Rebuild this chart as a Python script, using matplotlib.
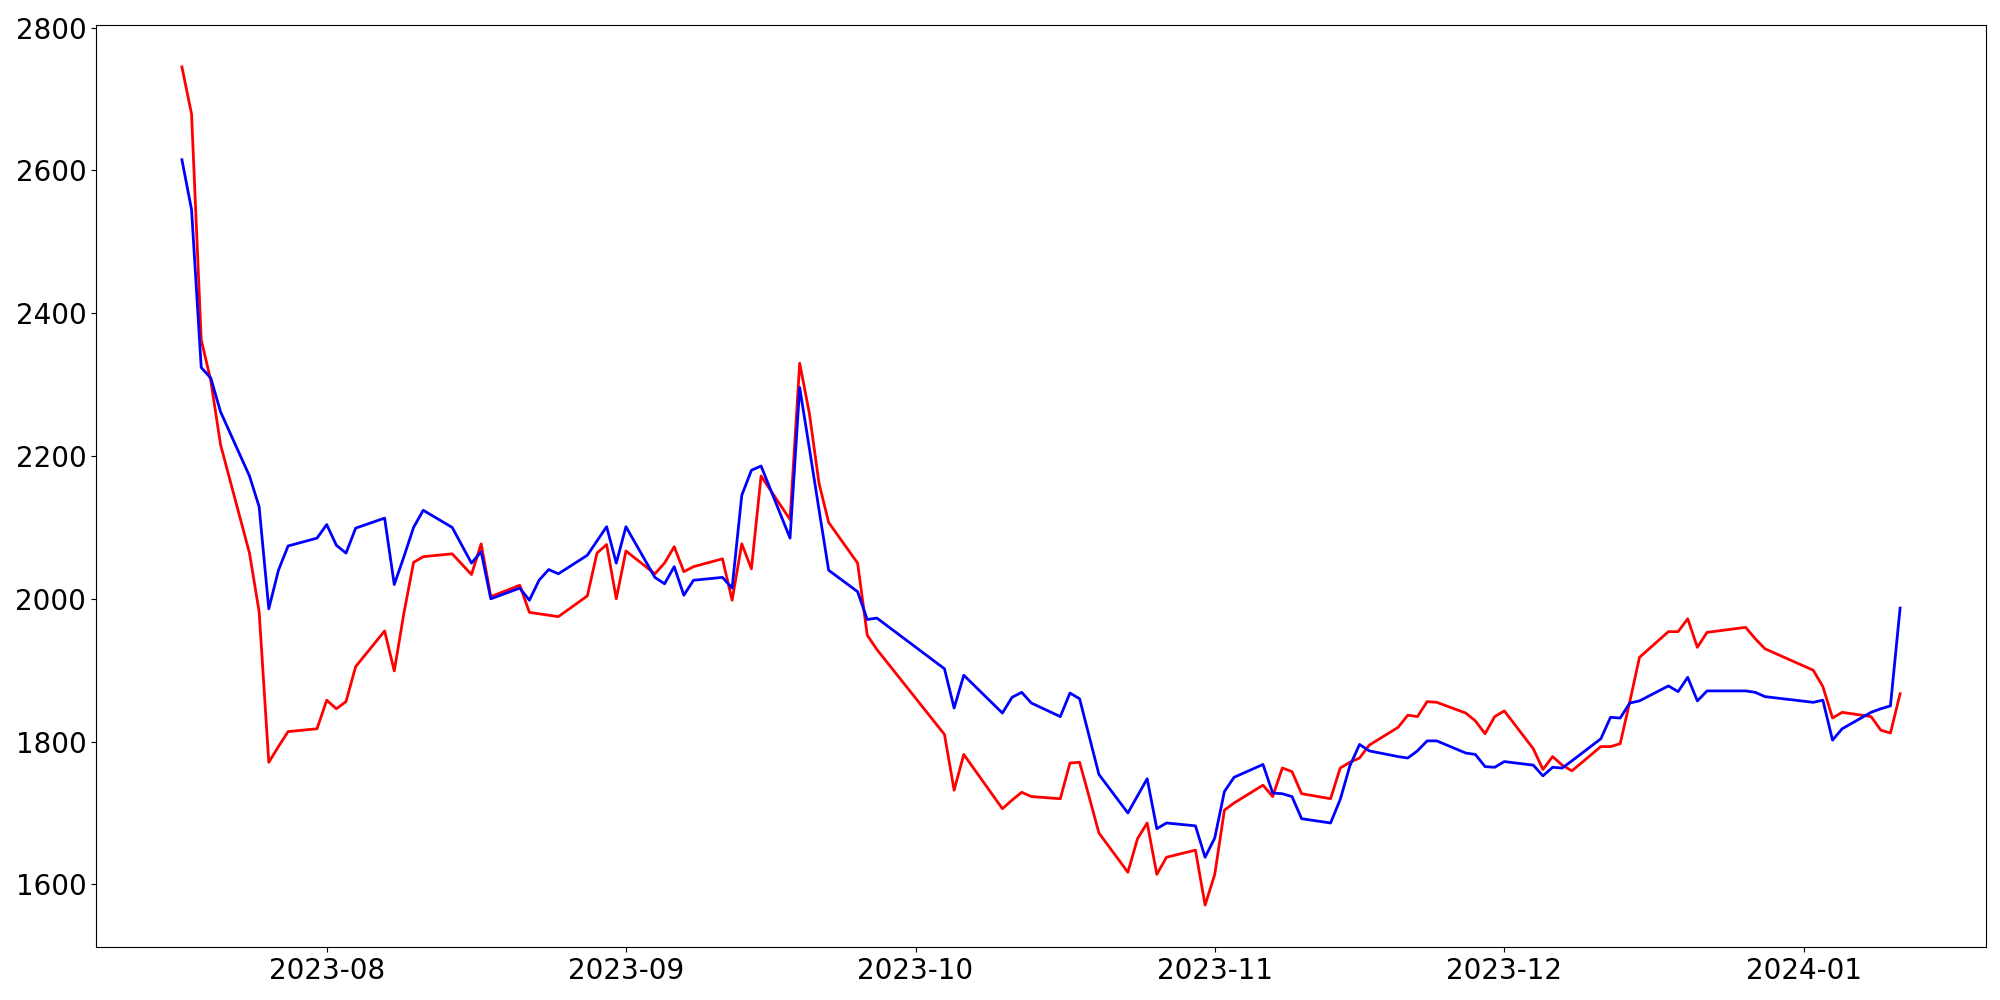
import matplotlib
matplotlib.use("Agg")
import matplotlib.pyplot as plt
import pandas as pd

# trading days
dates = [
    "2023-07-17", "2023-07-18", "2023-07-19", "2023-07-20", "2023-07-21",
    "2023-07-24", "2023-07-25", "2023-07-26", "2023-07-27", "2023-07-28",
    "2023-07-31", "2023-08-01", "2023-08-02", "2023-08-03", "2023-08-04",
    "2023-08-07", "2023-08-08", "2023-08-09", "2023-08-10", "2023-08-11",
    "2023-08-14", "2023-08-16", "2023-08-17", "2023-08-18",
    "2023-08-21", "2023-08-22", "2023-08-23", "2023-08-24", "2023-08-25",
    "2023-08-28", "2023-08-29", "2023-08-30", "2023-08-31", "2023-09-01",
    "2023-09-04", "2023-09-05", "2023-09-06", "2023-09-07", "2023-09-08",
    "2023-09-11", "2023-09-12", "2023-09-13", "2023-09-14", "2023-09-15",
    "2023-09-18", "2023-09-19", "2023-09-20", "2023-09-21", "2023-09-22",
    "2023-09-25", "2023-09-26", "2023-09-27",
    "2023-10-04", "2023-10-05", "2023-10-06",
    "2023-10-10", "2023-10-11", "2023-10-12", "2023-10-13",
    "2023-10-16", "2023-10-17", "2023-10-18", "2023-10-19", "2023-10-20",
    "2023-10-23", "2023-10-24", "2023-10-25", "2023-10-26", "2023-10-27",
    "2023-10-30", "2023-10-31", "2023-11-01", "2023-11-02", "2023-11-03",
    "2023-11-06", "2023-11-07", "2023-11-08", "2023-11-09", "2023-11-10",
    "2023-11-13", "2023-11-14", "2023-11-15", "2023-11-16", "2023-11-17",
    "2023-11-20", "2023-11-21", "2023-11-22", "2023-11-23", "2023-11-24",
    "2023-11-27", "2023-11-28", "2023-11-29", "2023-11-30", "2023-12-01",
    "2023-12-04", "2023-12-05", "2023-12-06", "2023-12-07", "2023-12-08",
    "2023-12-11", "2023-12-12", "2023-12-13", "2023-12-14", "2023-12-15",
    "2023-12-18", "2023-12-19", "2023-12-20", "2023-12-21", "2023-12-22",
    "2023-12-26", "2023-12-27", "2023-12-28",
    "2024-01-02", "2024-01-03", "2024-01-04", "2024-01-05",
    "2024-01-08", "2024-01-09", "2024-01-10", "2024-01-11",
]

red_values = [
    2745, 2679, 2363, 2305, 2216,
    2064, 1982, 1771, 1793, 1814,
    1818, 1858, 1846, 1856, 1905,
    1955, 1899, 1980, 2051, 2059,
    2063, 2034, 2077, 2003,
    2019, 1981, 1979, 1977, 1975,
    2004, 2064, 2076, 2000, 2067,
    2035, 2050, 2073, 2038, 2045,
    2056, 1998, 2077, 2042, 2172,
    2111, 2330, 2260, 2162, 2107,
    2050, 1949, 1929,
    1810, 1732, 1782,
    1706, 1718, 1729, 1723,
    1720, 1770, 1771, 1722, 1672,
    1617, 1664, 1686, 1614, 1638,
    1648, 1571, 1614, 1704, 1714,
    1739, 1723, 1763, 1758, 1727,
    1720, 1763, 1771, 1777, 1795,
    1820, 1837, 1835, 1856, 1855,
    1840, 1829, 1811, 1835, 1843,
    1790, 1761, 1779, 1767, 1759,
    1793, 1793, 1797, 1856, 1918,
    1954, 1954, 1972, 1932, 1953,
    1960, 1944, 1930,
    1900, 1877, 1833, 1841,
    1835, 1816, 1812, 1867,
]

blue_values = [
    2615, 2545, 2324, 2309, 2262,
    2172, 2129, 1986, 2040, 2074,
    2085, 2104, 2075, 2064, 2099,
    2113, 2020, 2059, 2100, 2124,
    2100, 2050, 2066, 2000,
    2015, 1998, 2026, 2041, 2035,
    2061, 2081, 2101, 2050, 2101,
    2030, 2021, 2045, 2005, 2026,
    2030, 2015, 2145, 2180, 2186,
    2085, 2296, 2211, 2125, 2040,
    2010, 1971, 1973,
    1902, 1847, 1893,
    1840, 1862, 1869, 1854,
    1835, 1868, 1860, 1807, 1754,
    1700, 1724, 1748, 1678, 1686,
    1682, 1638, 1665, 1730, 1750,
    1768, 1728, 1727, 1723, 1692,
    1686, 1719, 1766, 1796, 1787,
    1779, 1777, 1787, 1801, 1801,
    1784, 1782, 1765, 1764, 1772,
    1767, 1752, 1764, 1763, 1773,
    1804, 1834, 1833, 1854, 1857,
    1878, 1870, 1890, 1857, 1871,
    1871, 1869, 1863,
    1855, 1858, 1802, 1818,
    1841, 1846, 1850, 1987,
]

x = pd.to_datetime(dates)

fig, ax = plt.subplots(figsize=(20, 10), dpi=100)

ax.plot(x, red_values, color='red', linewidth=2)
ax.plot(x, blue_values, color='blue', linewidth=2)

ax.tick_params(axis='both', labelsize=20)

plt.subplots_adjust(left=0.048, right=0.993, top=0.975, bottom=0.053)
plt.savefig("out.png", dpi=100)
